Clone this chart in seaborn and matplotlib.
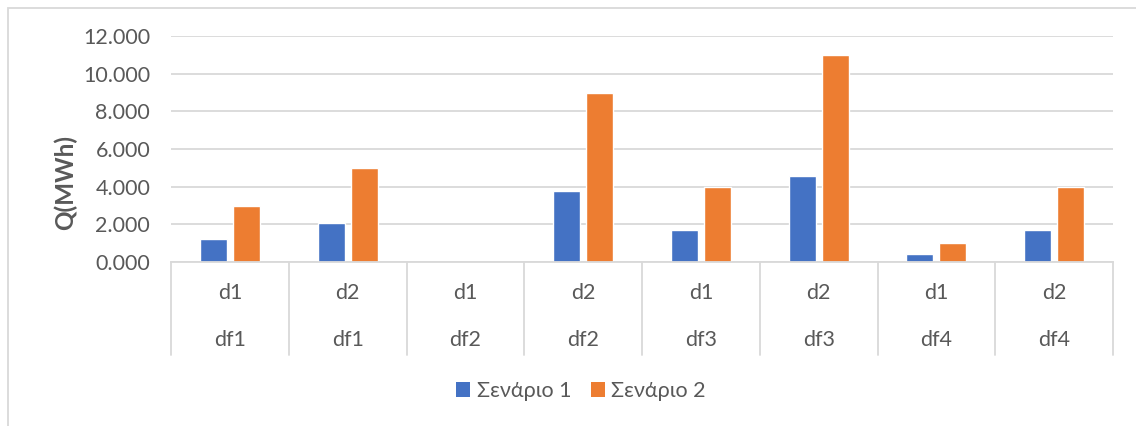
import matplotlib
matplotlib.use("Agg")
import matplotlib.pyplot as plt
from matplotlib.patches import Rectangle, Patch
from matplotlib.lines import Line2D
from matplotlib.ticker import FuncFormatter
import pandas as pd
import seaborn as sns

# Energy per feeder / day under the two scenarios (MWh)
days = ["d1", "d2", "d1", "d2", "d1", "d2", "d1", "d2"]
feeders = ["df1", "df1", "df2", "df2", "df3", "df3", "df4", "df4"]
scenario_1 = [1.22, 2.09, 0.0, 3.75, 1.68, 4.57, 0.41, 1.68]
scenario_2 = [3.0, 5.0, 0.0, 9.0, 4.0, 11.0, 1.0, 4.0]
series_names = ["Σενάριο 1", "Σενάριο 2"]
y_ticks = [0, 2, 4, 6, 8, 10, 12]

W, H = 1136, 426
sns.set_theme(style="white")
plt.rcParams["font.family"] = ["Lato", "DejaVu Sans"]

TEXT = "#595959"
GRID = "#d9d9d9"
BLUE = "#4472C4"
ORANGE = "#ED7D31"

keys = [f"{f}_{d}_{i}" for i, (f, d) in enumerate(zip(feeders, days))]
df = pd.DataFrame({
    "key": keys * 2,
    "value": scenario_1 + scenario_2,
    "series": [series_names[0]] * len(keys) + [series_names[1]] * len(keys),
})

fig = plt.figure(figsize=(W / 100, H / 100), dpi=100)
ax = fig.add_axes([171 / W, 1 - 262 / H, (1113 - 171) / W, (262 - 36) / H])

sns.barplot(data=df, x="key", y="value", hue="series", order=keys,
            hue_order=series_names, palette=[BLUE, ORANGE],
            width=0.56, gap=0.18, ax=ax, legend=False, saturation=1)

ax.set_ylim(0, 12)
ax.set_xlim(-0.5, len(keys) - 0.5)
ax.set_yticks(y_ticks)
ax.yaxis.set_major_formatter(FuncFormatter(lambda v, p: f"{v:.3f}"))
ax.tick_params(axis="y", length=0, pad=15, labelsize=15.5, labelcolor=TEXT)
ax.set_axisbelow(True)
ax.grid(axis="y", color=GRID, linewidth=1.3)
for s in ["left", "right", "top"]:
    ax.spines[s].set_visible(False)
ax.spines["bottom"].set_color(GRID)
ax.spines["bottom"].set_linewidth(1.3)

ax.set_xticks(range(len(keys)))
ax.set_xticklabels([])
ax.tick_params(axis="x", length=0)
ax.set_xlabel("")
ax.set_ylabel("Q(MWh)", fontsize=17.5, fontweight="bold", color=TEXT)
ax.yaxis.set_label_coords((77 - 171) / 942, (262 - 183) / 226)

# Two-level category axis with separators
trans = ax.get_xaxis_transform()
px = 1 / (262 - 36)
for i, (d, f) in enumerate(zip(days, feeders)):
    ax.text(i, -31 * px, d, transform=trans, ha="center", va="center",
            fontsize=15.5, color=TEXT)
    ax.text(i, -78 * px, f, transform=trans, ha="center", va="center",
            fontsize=15.5, color=TEXT)
for b in range(len(keys) + 1):
    ax.add_line(Line2D([b - 0.5, b - 0.5], [0, -93 * px], transform=trans,
                       color=GRID, linewidth=1.3, clip_on=False))

handles = [Patch(facecolor=BLUE, edgecolor="none"),
           Patch(facecolor=ORANGE, edgecolor="none")]
fig.legend(handles, series_names, loc="center", bbox_to_anchor=(581 / W, 1 - 391 / H),
           ncol=2, frameon=False, fontsize=15.5, labelcolor=TEXT,
           handlelength=0.65, handleheight=0.65, handletextpad=0.3, columnspacing=0.9)

# Chart frame
fig.patches.append(Rectangle((7.5 / W, -0.1), 1.2, 1.1 - 7.5 / H,
                             transform=fig.transFigure, fill=False,
                             edgecolor=GRID, linewidth=1.3))

fig.savefig("out.png", dpi=100)
